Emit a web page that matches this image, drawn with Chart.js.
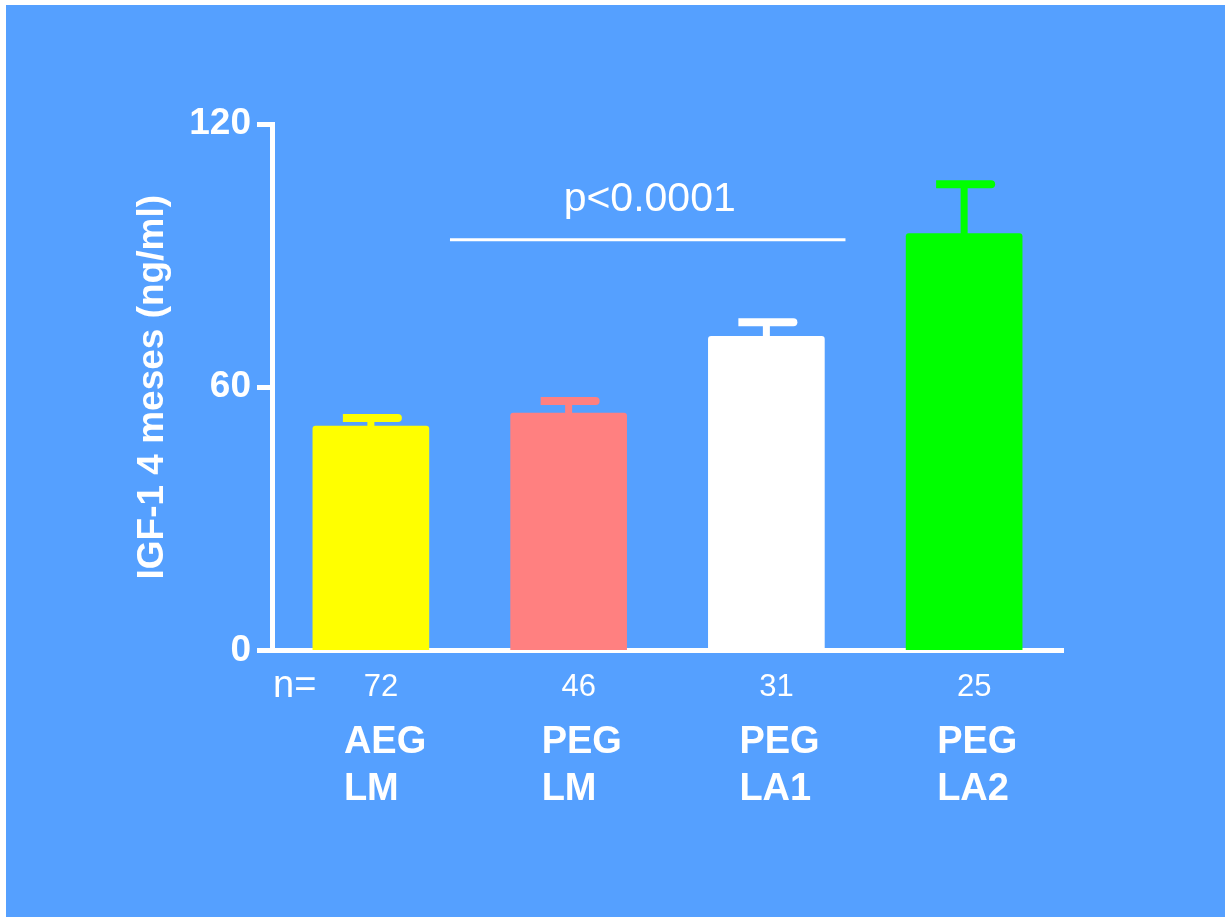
<!DOCTYPE html>
<html>
<head>
<meta charset="utf-8">
<script src="https://cdn.jsdelivr.net/npm/chart.js@4/dist/chart.umd.min.js"></script>
<style>
  body { margin: 0; background: #ffffff; }
  canvas { display: block; }
</style>
</head>
<body>
<canvas id="igfChart" width="1225" height="917"></canvas>
<script>
// Data
const groups = [['AEG', 'LM'], ['PEG', 'LM'], ['PEG', 'LA1'], ['PEG', 'LA2']];
const means = [51.2, 54.2, 71.7, 95.1];
const sems = [2.7, 3.6, 4.0, 12.1];
const nValues = ['72', '46', '31', '25'];
const barColors = ['#ffff00', '#ff8080', '#ffffff', '#00ff00'];
const yTicks = [0, 60, 120];
const sigLabel = 'p<0.0001';
const sigLevel = 93.6;      // y value of the bracket line
const sigTextLevel = 100.2; // baseline of the p-value text
const sigFrom = 0.4, sigTo = 2.4, sigMid = 1.41; // category indices

const FONT = 'Liberation Sans, Arial, sans-serif';

// Blue panel with thin white frame top/left
const backgroundPanel = {
    id: 'backgroundPanel',
    beforeDraw(chart) {
        const c = chart.ctx;
        c.save();
        c.fillStyle = '#ffffff';
        c.fillRect(0, 0, chart.width, chart.height);
        c.fillStyle = '#55a0ff';
        c.fillRect(6, 5, chart.width - 6, chart.height - 5);
        c.restore();
    }
};

// SEM error bars (upper only) with a cap rounded on the right end
const errorBars = {
    id: 'errorBars',
    afterDatasetsDraw(chart) {
        const c = chart.ctx;
        const y = chart.scales.y;
        const meta = chart.getDatasetMeta(0);
        c.save();
        meta.data.forEach((bar, i) => {
            const top = y.getPixelForValue(means[i] + sems[i]);
            c.fillStyle = barColors[i];
            // stem
            c.fillRect(bar.x - 3.5, top + 4, 7, bar.y - top - 3);
            // cap
            const x0 = bar.x - 28, x1 = bar.x + 31, h = 8;
            c.beginPath();
            c.moveTo(x0, top);
            c.lineTo(x1 - 4, top);
            c.arc(x1 - 4, top + 4, 4, -Math.PI / 2, Math.PI / 2);
            c.lineTo(x0, top + h);
            c.closePath();
            c.fill();
        });
        c.restore();
    }
};

// Significance bracket, n row and group labels
const annotations = {
    id: 'annotations',
    afterDraw(chart) {
        const c = chart.ctx;
        const x = chart.scales.x;
        const y = chart.scales.y;
        const area = chart.chartArea;
        c.save();
        c.fillStyle = '#ffffff';
        c.strokeStyle = '#ffffff';

        // bracket line
        const ly = y.getPixelForValue(sigLevel);
        c.lineWidth = 3;
        c.beginPath();
        c.moveTo(x.getPixelForValue(sigFrom), ly);
        c.lineTo(x.getPixelForValue(sigTo), ly);
        c.stroke();

        c.font = '41px ' + FONT;
        c.textAlign = 'center';
        c.textBaseline = 'alphabetic';
        c.fillText(sigLabel, x.getPixelForValue(sigMid), y.getPixelForValue(sigTextLevel));

        // n row
        c.textAlign = 'left';
        c.font = '38px ' + FONT;
        c.fillText('n=', 273, area.bottom + 46);
        c.textAlign = 'center';
        c.font = '31px ' + FONT;
        nValues.forEach((n, i) => {
            c.fillText(n, x.getPixelForValue(i) + 10, area.bottom + 45.5);
        });

        // group labels
        c.textAlign = 'left';
        c.font = 'bold 38px ' + FONT;
        groups.forEach((lines, i) => {
            const lx = x.getPixelForValue(i) - 27;
            c.fillText(lines[0], lx, area.bottom + 102.5);
            c.fillText(lines[1], lx, area.bottom + 149.5);
        });
        c.restore();
    }
};

const ctx = document.getElementById('igfChart').getContext('2d');
const igfChart = new Chart(ctx, {
    type: 'bar',
    data: {
        labels: groups.map(g => g.join(' ')),
        datasets: [{
            data: means,
            backgroundColor: barColors,
            borderWidth: 0,
            borderRadius: 3,
            barPercentage: 0.59,
            categoryPercentage: 1.0
        }]
    },
    options: {
        responsive: false,
        animation: false,
        devicePixelRatio: 1,
        layout: { padding: { top: 124, right: 162, left: 0, bottom: 0 } },
        plugins: {
            legend: { display: false },
            tooltip: { enabled: false }
        },
        scales: {
            x: {
                grid: { display: false },
                border: { display: true, color: '#ffffff', width: 5 },
                ticks: { display: false },
                afterFit(scale) { scale.height = 266.5; }
            },
            y: {
                min: 0,
                max: 120,
                afterBuildTicks(scale) {
                    scale.ticks = yTicks.map(v => ({ value: v }));
                },
                grid: {
                    drawOnChartArea: false,
                    drawTicks: true,
                    tickLength: 15,
                    tickWidth: 5,
                    tickColor: '#ffffff'
                },
                border: { display: true, color: '#ffffff', width: 5 },
                ticks: {
                    color: '#ffffff',
                    padding: 6,
                    font: { family: FONT, size: 37, weight: 'bold' }
                },
                title: {
                    display: true,
                    text: 'IGF-1 4 meses (ng/ml)',
                    color: '#ffffff',
                    padding: { top: 131, bottom: 0 },
                    font: { family: FONT, size: 37, weight: 'bold' }
                },
                afterFit(scale) { scale.width = 272; }
            }
        }
    },
    plugins: [backgroundPanel, errorBars, annotations]
});
</script>
</body>
</html>
